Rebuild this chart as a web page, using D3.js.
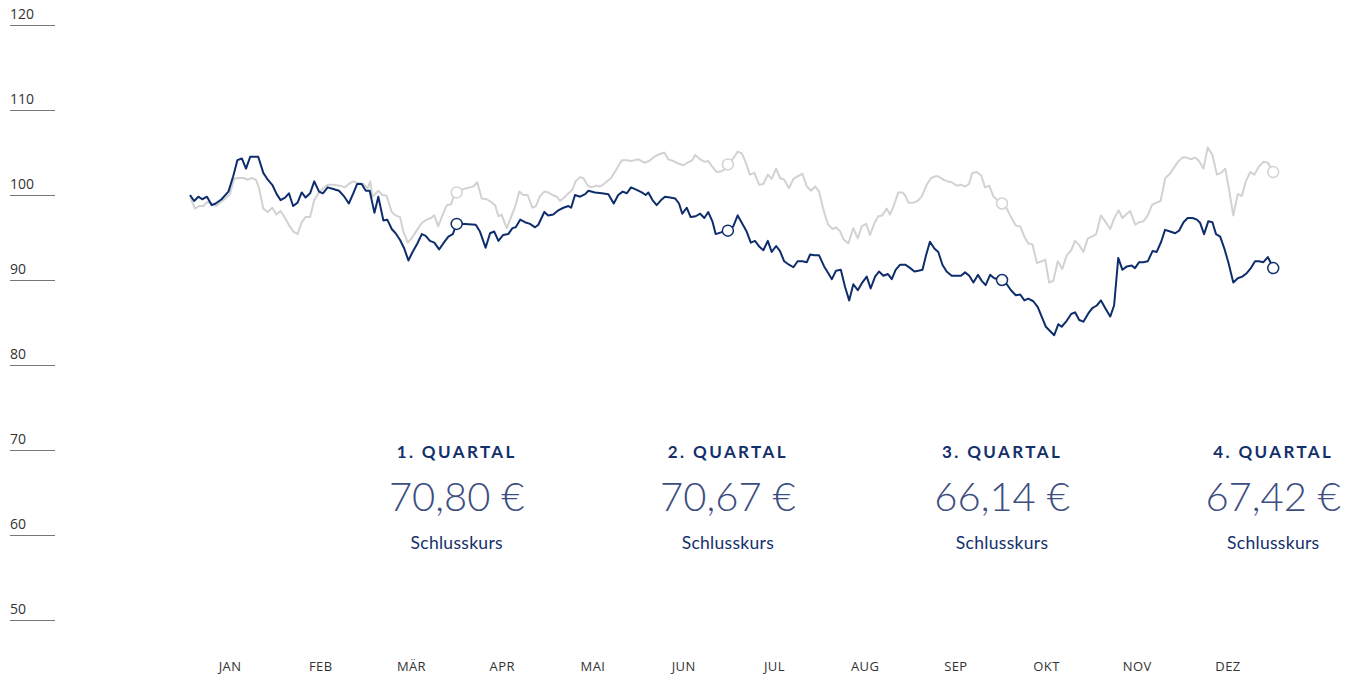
<!DOCTYPE html>
<meta charset="utf-8">
<style>
body { margin: 0; background: #fff; }
.axis text { font: 14px "Open Sans", sans-serif; fill: #333; }
.axis line { stroke: #777; stroke-width: 1; shape-rendering: crispEdges; }
.month text { font: 13px "Open Sans", sans-serif; fill: #333; letter-spacing: 0.4px; }
.q-title { font: bold 17px Lato, sans-serif; fill: #14306b; letter-spacing: 2.4px; }
.q-price { font: 300 40px Lato, sans-serif; fill: #3d4d80; }
.q-sub { font: 17.5px Lato, sans-serif; fill: #14306b; letter-spacing: 0.3px; }
</style>
<svg width="1352" height="677" id="chart"></svg>
<script src="https://d3js.org/d3.v7.min.js"></script>
<script>
// index values (start = 100), day of year
var navyDays = [0.5,1.9,3.3,4.6,6.2,7.8,9.1,11.1,13.4,15.0,
  16.4,17.9,19.3,20.7,23.4,25.1,26.6,28.1,29.6,30.9,
  32.4,33.7,35.1,36.6,38.0,39.3,40.8,42.2,43.8,45.1,
  46.7,48.6,50.5,52.3,53.8,55.3,56.6,58.1,59.5,60.8,
  62.4,63.7,65.4,66.7,68.2,69.5,71.0,72.4,73.8,75.2,
  76.8,78.3,79.6,81.0,82.5,84.1,85.5,87.2,88.7,90,
  92.8,96.4,97.8,99.7,101.2,102.6,104.0,105.6,107.3,108.7,
  109.8,111.3,112.9,114.6,116.3,117.4,119.4,120.7,122.4,124.1,
  125.8,127.5,128.4,129.7,131.4,133.1,134.2,136.4,138.7,140.9,
  142.7,144.2,145.7,147.1,148.5,150.4,152.1,153.4,154.3,155.7,
  157.1,158.6,159.9,161.6,163.3,164.6,165.7,167.2,168.5,170.2,
  171.7,173.1,174.4,175.8,176.9,178.7,180.2,181,182.8,184.3,
  185.9,187.3,188.7,190.1,191.6,192.9,194.4,195.7,197.2,198.5,
  199.9,201.5,203.0,204.4,206.0,207.5,208.6,210.0,211.6,213.3,
  214.7,215.9,217.3,218.9,220.3,221.7,223.1,224.6,225.9,227.6,
  228.9,230.4,231.7,233.2,234.7,236.0,237.3,238.8,240.5,242.2,
  243.6,244.9,246.3,247.5,248.8,250.3,251.6,253.0,254.4,256.1,
  257.8,259.2,260.6,262.0,263.4,264.9,266.2,267.5,269.0,270.4,
  273,274.6,276.0,277.6,279.1,280.5,281.8,283.5,285.0,286.3,
  287.7,289.1,290.5,291.9,293.0,294.7,296.2,297.5,298.9,300.3,
  302.0,303.3,304.8,306.2,307.8,309.3,310.6,312.0,313.4,314.9,
  316.5,317.6,319.0,320.4,321.9,323.5,324.9,326.4,327.7,329.4,
  331.1,332.4,333.9,335.3,336.9,338.4,339.5,340.8,342.2,343.6,
  344.8,346.2,347.6,349.0,350.6,352.1,353.6,355.1,356.5,357.9,
  359.2,360.7,362.2,362.9,364];
var navyValues = [100.0,99.3,99.8,99.5,99.8,98.8,99.0,99.5,100.4,102.2,
  104.1,104.3,103.1,104.5,104.5,102.6,101.8,101.2,100.1,99.4,
  99.7,100.2,98.7,99.1,100.3,99.7,100.2,101.6,100.4,100.2,
  100.9,100.7,100.5,99.8,99.0,100.2,101.3,101.3,100.5,100.5,
  97.9,99.8,97.0,97.1,96.0,95.5,94.7,93.7,92.3,93.3,
  94.3,95.4,95.2,94.6,94.4,93.6,94.3,95.1,95.4,96.6,
  96.6,96.5,95.7,93.8,95.5,95.7,94.6,95.3,95.4,96.1,
  96.2,97.1,96.8,96.6,96.2,96.5,98.0,97.6,97.7,98.2,
  98.5,98.7,98.5,100.0,99.8,100.1,100.5,100.3,100.2,100.1,
  99.0,100.0,100.4,100.2,100.9,100.6,100.3,100.0,100.3,99.4,
  98.8,99.4,99.8,99.7,99.6,99.0,97.8,98.5,97.4,97.5,
  97.8,97.3,98.0,96.9,95.4,95.6,95.8,95.8,96.3,97.6,
  96.6,95.7,94.4,94.6,93.9,93.5,94.6,93.3,94.0,93.4,
  92.2,91.8,91.5,92.2,92.2,92.1,93.0,92.9,92.9,91.6,
  90.8,90.1,91.1,91.2,89.2,87.6,89.5,88.8,89.6,90.4,
  89.0,90.4,91.0,90.5,90.7,90.1,91.2,91.8,91.8,91.4,
  91.0,91.1,91.2,92.9,94.5,93.7,93.3,91.8,91.0,90.5,
  90.5,90.5,90.9,90.5,89.7,90.6,89.9,89.4,90.6,90.2,
  90.0,89.5,88.8,88.2,88.3,87.6,87.8,87.5,86.8,85.7,
  84.5,84.0,83.5,84.8,84.5,85.2,86.0,86.2,85.3,85.1,
  86.1,86.7,87.0,87.6,86.6,85.7,87.0,92.6,91.2,91.6,
  91.7,91.4,92.1,92.1,92.2,93.4,93.3,94.5,95.9,95.7,
  95.5,95.8,96.8,97.3,97.3,97.1,96.7,95.4,96.9,96.8,
  95.4,95.1,93.7,92.0,89.7,90.2,90.4,90.8,91.4,92.2,
  92.2,92.1,92.7,92.2,91.4];

var grayDays = [0.5,2.2,3.5,5.0,6.4,7.8,9.3,10.9,12.5,13.9,
  15.3,16.7,18.4,19.9,21.2,22.6,23.7,25.1,26.6,28.1,
  29.5,30.9,32.4,33.8,35.2,36.6,38.0,39.3,40.8,42.2,
  43.8,45.2,46.7,48.6,50.8,52.5,54.2,55.3,57.0,58.7,
  60.1,61.0,61.7,63.7,65.0,66.5,68.2,69.5,71.0,72.1,
  73.6,75.1,76.7,78.3,79.9,81.4,82.5,83.8,85.2,86.7,
  88.1,89.2,90,92.2,94.5,95.6,96.9,98.4,100.1,101.5,
  102.9,104.0,105.1,106.0,106.8,107.9,109.6,111.0,112.4,113.8,
  115.4,116.6,118.0,119.4,120.7,122.1,123.6,124.7,126.1,127.5,
  128.8,129.9,131.4,132.5,134.0,135.3,136.7,138.1,139.8,141.8,
  143.7,145.4,147.1,148.7,151.0,152.9,154.6,156.3,158.0,159.7,
  161.0,162.7,164.4,166.1,167.5,169.1,170.0,171.7,173.3,174.4,
  175.8,177.3,178.9,180.3,181,182.8,184.3,185.7,187.0,188.4,
  189.9,191.5,192.9,194.4,195.7,197.2,198.5,199.9,201.5,203.0,
  204.4,206.0,207.5,208.9,210.3,211.6,212.7,213.6,214.7,216.1,
  217.3,218.7,219.8,221.4,223.1,224.6,225.9,227.4,228.7,230.2,
  231.5,232.8,234.3,235.4,236.5,238.2,239.6,240.4,241.6,243.2,
  244.7,246.0,247.7,249.2,250.5,251.6,253.3,254.8,256.1,257.8,
  259.3,260.6,261.9,263.0,264.5,266.0,267.3,268.7,270.1,273,
  274.6,276.0,277.6,279.1,280.5,281.8,283.2,284.7,286.3,287.5,
  288.8,290.2,291.7,293.2,294.7,296.2,297.5,298.9,300.3,301.8,
  303.1,304.6,306.2,307.6,309.3,310.7,312.1,313.4,314.9,316.0,
  317.7,319.0,320.4,321.9,323.3,324.7,326.2,327.8,329.1,330.5,
  332.0,333.5,335.0,336.4,337.8,339.1,340.6,342.0,343.6,345.1,
  346.5,347.9,349.2,350.6,352.1,353.5,354.8,356.3,357.7,359.1,
  360.7,362.2,364];
var grayValues = [99.8,98.4,98.7,98.7,99.2,99.0,98.7,99.2,99.6,100.1,
  101.9,102.0,102.0,101.8,102.0,101.8,100.8,98.4,98.0,98.5,
  97.7,98.1,97.3,96.4,95.7,95.4,96.8,97.4,97.4,99.4,
  100.3,100.8,101.2,101.2,101.1,100.9,101.4,101.6,101.4,101.3,
  100.8,101.6,99.8,100.5,100.0,99.9,98.0,97.6,97.4,95.7,
  94.4,95.0,95.9,96.7,97.1,97.3,97.6,96.3,97.6,98.8,
  98.9,100.1,100.3,100.7,100.9,101.0,101.5,99.6,99.5,99.2,
  98.8,97.5,97.7,96.8,96.1,97.1,98.6,100.4,100.0,100.0,
  98.5,98.7,99.9,100.4,100.3,100.0,99.8,99.3,99.7,100.2,
  100.6,101.6,102.1,102.0,101.1,100.9,101.1,101.0,101.4,102.0,
  103.1,104.1,104.1,104.0,104.2,103.8,104.0,104.5,104.8,105.0,
  104.2,104.0,103.7,103.5,103.8,104.1,104.7,104.2,103.9,104.0,
  103.3,102.7,102.8,103.1,103.6,104.3,105.1,104.9,103.8,102.4,
  102.6,101.2,101.3,102.4,101.9,103.1,102.0,101.8,100.8,101.9,
  102.2,102.5,101.0,100.5,101.0,100.4,98.8,97.6,96.5,96.0,
  96.2,95.7,94.8,94.3,96.1,94.9,96.3,96.6,95.3,96.7,
  97.5,97.6,98.4,97.7,98.6,100.3,100.3,100.0,99.1,99.1,
  99.3,99.8,101.2,102.0,102.2,102.2,101.8,101.6,101.5,101.1,
  101.2,101.0,101.3,102.6,102.7,102.3,100.9,101.1,99.8,99.0,
  98.4,97.4,96.4,96.3,95.1,94.3,94.2,92.0,92.2,92.4,
  89.7,89.9,92.2,91.3,92.9,93.5,94.6,94.1,93.3,94.9,
  95.1,95.4,97.6,96.9,96.0,97.3,98.2,97.3,97.8,98.1,
  96.5,96.8,96.9,97.6,98.8,99.1,99.3,102.0,102.4,103.1,
  103.9,104.4,104.4,104.2,104.4,104.0,103.1,105.6,104.7,102.4,
  102.6,103.1,100.6,97.6,100.1,99.9,101.6,102.7,102.4,103.3,
  103.9,103.8,102.7];

var months = ["JAN","FEB","MÄR","APR","MAI","JUN","JUL","AUG","SEP","OKT","NOV","DEZ"];
var yTicks = [50,60,70,80,90,100,110,120];
var quarterDays = [90,181,273,364];
var quarterTitles = ["1. QUARTAL","2. QUARTAL","3. QUARTAL","4. QUARTAL"];
var quarterPrices = ["70,80 €","70,67 €","66,14 €","67,42 €"];

var svg = d3.select("#chart");

var x = d3.scaleLinear().domain([0, 365]).range([188.5, 1276.2]);
var y = d3.scaleLinear().domain([50, 120]).range([620, 25]);
var xm = d3.scalePoint().domain(months).range([229.5, 1227.5]);

// y axis: short rules with the label sitting on top
svg.append("g")
    .attr("class", "axis")
    .attr("transform", "translate(55,0)")
    .call(d3.axisLeft(y).tickValues(yTicks).tickSize(45).tickFormat(d3.format("d")))
    .call(g => g.select(".domain").remove())
    .call(g => g.selectAll(".tick text")
        .attr("x", -45).attr("dy", null).attr("y", -7)
        .attr("text-anchor", "start"));

// months
svg.append("g")
    .attr("class", "month")
    .attr("transform", "translate(0,662)")
    .call(d3.axisBottom(xm).tickSize(0).tickPadding(0))
    .call(g => g.select(".domain").remove())
    .call(g => g.selectAll(".tick text").attr("dy", "0.71em"));

var gray = grayDays.map((d, i) => [d, grayValues[i]]);
var navy = navyDays.map((d, i) => [d, navyValues[i]]);

var line = d3.line().x(d => x(d[0])).y(d => y(d[1]));

svg.append("path").datum(gray)
    .attr("fill", "none").attr("stroke", "#d2d2d2").attr("stroke-width", 2)
    .attr("stroke-linejoin", "round").attr("d", line);
svg.append("path").datum(navy)
    .attr("fill", "none").attr("stroke", "#0e2d6b").attr("stroke-width", 2)
    .attr("stroke-linejoin", "round").attr("d", line);

function markers(data, color) {
  svg.append("g").selectAll("circle")
    .data(quarterDays.map(q => data.find(d => d[0] === q)))
    .join("circle")
      .attr("cx", d => x(d[0]))
      .attr("cy", d => y(d[1]))
      .attr("r", 5.5)
      .attr("fill", "#fff")
      .attr("stroke", color)
      .attr("stroke-width", 1.5);
}
markers(gray, "#d2d2d2");
markers(navy, "#0e2d6b");

// quarter closing prices
var q = svg.append("g").selectAll("g")
  .data(quarterDays)
  .join("g")
    .attr("transform", d => "translate(" + x(d) + ",0)")
    .attr("text-anchor", "middle");
q.append("text").attr("class", "q-title").attr("y", 458).text((d, i) => quarterTitles[i]);
q.append("text").attr("class", "q-price").attr("y", 511).text((d, i) => quarterPrices[i]);
q.append("text").attr("class", "q-sub").attr("y", 549).text("Schlusskurs");
</script>
